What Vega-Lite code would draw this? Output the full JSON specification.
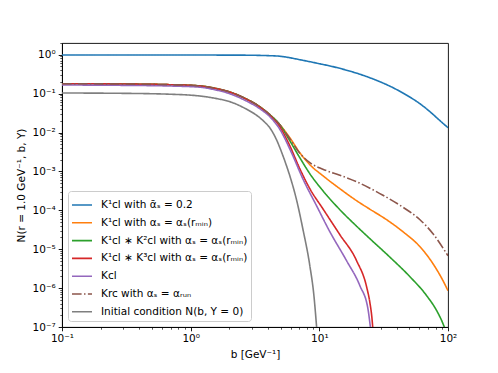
{
  "$schema": "https://vega.github.io/schema/vega-lite/v6.json",
  "autosize": "none",
  "width": 386,
  "height": 284,
  "padding": {"left": 62, "top": 43, "right": 50, "bottom": 46},
  "background": "white",
  "config": {
    "font": "DejaVu Sans",
    "view": {"stroke": "black", "strokeWidth": 0.9},
    "axis": {
      "domainColor": "black", "domainWidth": 0.9, "tickColor": "black",
      "labelColor": "black", "titleColor": "black", "grid": false,
      "labelFont": "DejaVu Sans", "labelFontSize": 10.5, "titleFont": "DejaVu Sans",
      "titleFontSize": 10.5, "titleFontWeight": "normal", "labelPadding": 3,
      "labelOverlap": false, "labelFlush": false
    },
    "legend": {
      "orient": "bottom-left", "offset": 6, "fillColor": "white", "strokeColor": "#cccccc",
      "cornerRadius": 3, "padding": 3, "labelFont": "DejaVu Sans", "labelFontSize": 10.5,
      "labelColor": "black", "symbolType": "stroke", "symbolStrokeWidth": 1.6,
      "symbolSize": 400, "rowPadding": 0.8, "labelLimit": 400, "labelOffset": 8
    }
  },
  "datasets": {
    "curves": [
      {"s": "blue", "b": 0.1, "N": 0.98}, {"s": "blue", "b": 0.5, "N": 0.98}, {"s": "blue", "b": 1.0, "N": 0.98},
      {"s": "blue", "b": 2.4, "N": 0.975}, {"s": "blue", "b": 3.443, "N": 0.96}, {"s": "blue", "b": 4.12, "N": 0.943},
      {"s": "blue", "b": 4.927, "N": 0.915}, {"s": "blue", "b": 5.893, "N": 0.837}, {"s": "blue", "b": 7.05, "N": 0.744},
      {"s": "blue", "b": 8.436, "N": 0.661}, {"s": "blue", "b": 10, "N": 0.587}, {"s": "blue", "b": 12.07, "N": 0.515},
      {"s": "blue", "b": 15.8, "N": 0.411}, {"s": "blue", "b": 20.65, "N": 0.315}, {"s": "blue", "b": 27.0, "N": 0.228},
      {"s": "blue", "b": 35.4, "N": 0.155}, {"s": "blue", "b": 46.3, "N": 0.0965}, {"s": "blue", "b": 60.5, "N": 0.055},
      {"s": "blue", "b": 72.4, "N": 0.0343}, {"s": "blue", "b": 86.7, "N": 0.0201}, {"s": "blue", "b": 100, "N": 0.0133},

      {"s": "orange", "b": 0.1, "N": 0.1797}, {"s": "orange", "b": 0.28, "N": 0.1765}, {"s": "orange", "b": 0.687, "N": 0.1694},
      {"s": "orange", "b": 1.175, "N": 0.1577}, {"s": "orange", "b": 1.537, "N": 0.1376}, {"s": "orange", "b": 2.012, "N": 0.1099},
      {"s": "orange", "b": 2.632, "N": 0.0762}, {"s": "orange", "b": 3.443, "N": 0.046}, {"s": "orange", "b": 4.12, "N": 0.02868},
      {"s": "orange", "b": 4.927, "N": 0.01587}, {"s": "orange", "b": 5.893, "N": 0.00735}, {"s": "orange", "b": 7.05, "N": 0.003025},
      {"s": "orange", "b": 8.436, "N": 0.001487}, {"s": "orange", "b": 10.65, "N": 0.000775}, {"s": "orange", "b": 14.44, "N": 0.000359},
      {"s": "orange", "b": 19.48, "N": 0.0001765}, {"s": "orange", "b": 24.72, "N": 0.0001067}, {"s": "orange", "b": 33.34, "N": 0.0000573},
      {"s": "orange", "b": 44.65, "N": 0.00002818}, {"s": "orange", "b": 60.56, "N": 0.00001159}, {"s": "orange", "b": 76.43, "N": 0.00000424},
      {"s": "orange", "b": 91.45, "N": 0.00000155}, {"s": "orange", "b": 100, "N": 0.000000857},

      {"s": "green", "b": 0.1, "N": 0.1797}, {"s": "green", "b": 0.28, "N": 0.1765}, {"s": "green", "b": 0.687, "N": 0.1694},
      {"s": "green", "b": 1.175, "N": 0.1577}, {"s": "green", "b": 1.537, "N": 0.1376}, {"s": "green", "b": 2.012, "N": 0.1099},
      {"s": "green", "b": 2.632, "N": 0.0762}, {"s": "green", "b": 3.443, "N": 0.046}, {"s": "green", "b": 4.12, "N": 0.02868},
      {"s": "green", "b": 4.927, "N": 0.01587}, {"s": "green", "b": 5.893, "N": 0.006154}, {"s": "green", "b": 7.05, "N": 0.00225},
      {"s": "green", "b": 8.436, "N": 0.000873}, {"s": "green", "b": 10.65, "N": 0.000319}, {"s": "green", "b": 14.44, "N": 0.0001036},
      {"s": "green", "b": 19.48, "N": 0.000039}, {"s": "green", "b": 24.72, "N": 0.00001862}, {"s": "green", "b": 35.38, "N": 0.00000623},
      {"s": "green", "b": 50.6, "N": 0.000001963}, {"s": "green", "b": 68.27, "N": 0.000000638}, {"s": "green", "b": 81.7, "N": 0.0000002624},
      {"s": "green", "b": 91.45, "N": 0.0000001215}, {"s": "green", "b": 96.5, "N": 0.0000000757},

      {"s": "red", "b": 0.1, "N": 0.1797}, {"s": "red", "b": 0.28, "N": 0.1765}, {"s": "red", "b": 0.687, "N": 0.1694},
      {"s": "red", "b": 1.175, "N": 0.1572}, {"s": "red", "b": 1.537, "N": 0.137}, {"s": "red", "b": 2.012, "N": 0.1092},
      {"s": "red", "b": 2.632, "N": 0.0755}, {"s": "red", "b": 3.443, "N": 0.0452}, {"s": "red", "b": 4.12, "N": 0.02784},
      {"s": "red", "b": 4.927, "N": 0.01409}, {"s": "red", "b": 5.893, "N": 0.004577}, {"s": "red", "b": 7.05, "N": 0.001173},
      {"s": "red", "b": 8.436, "N": 0.000359}, {"s": "red", "b": 10.65, "N": 0.0001099}, {"s": "red", "b": 14.44, "N": 0.0000236},
      {"s": "red", "b": 19.48, "N": 0.00000506}, {"s": "red", "b": 23.29, "N": 0.000001086}, {"s": "red", "b": 24.72, "N": 0.000000421},
      {"s": "red", "b": 25.62, "N": 0.0000001734}, {"s": "red", "b": 26.09, "N": 0.0000000852},

      {"s": "purple", "b": 0.1, "N": 0.1664}, {"s": "purple", "b": 0.28, "N": 0.1634}, {"s": "purple", "b": 0.687, "N": 0.1568},
      {"s": "purple", "b": 1.175, "N": 0.1461}, {"s": "purple", "b": 1.537, "N": 0.126}, {"s": "purple", "b": 2.012, "N": 0.0994},
      {"s": "purple", "b": 2.632, "N": 0.0677}, {"s": "purple", "b": 3.443, "N": 0.0409}, {"s": "purple", "b": 4.12, "N": 0.02548},
      {"s": "purple", "b": 4.927, "N": 0.01216}, {"s": "purple", "b": 6.077, "N": 0.003025}, {"s": "purple", "b": 7.44, "N": 0.000649},
      {"s": "purple", "b": 9.51, "N": 0.0001313}, {"s": "purple", "b": 12.07, "N": 0.00002818}, {"s": "purple", "b": 16.28, "N": 0.00000506},
      {"s": "purple", "b": 20.66, "N": 0.000001152}, {"s": "purple", "b": 23.85, "N": 0.0000002954}, {"s": "purple", "b": 25.07, "N": 0.0000000852},

      {"s": "brown", "b": 0.1, "N": 0.1797}, {"s": "brown", "b": 0.28, "N": 0.1765}, {"s": "brown", "b": 0.687, "N": 0.1694},
      {"s": "brown", "b": 1.175, "N": 0.1577}, {"s": "brown", "b": 1.537, "N": 0.1376}, {"s": "brown", "b": 2.012, "N": 0.1099},
      {"s": "brown", "b": 2.632, "N": 0.0762}, {"s": "brown", "b": 3.443, "N": 0.046}, {"s": "brown", "b": 4.12, "N": 0.02868},
      {"s": "brown", "b": 4.927, "N": 0.01587}, {"s": "brown", "b": 5.893, "N": 0.00693}, {"s": "brown", "b": 7.05, "N": 0.002936},
      {"s": "brown", "b": 8.436, "N": 0.001674}, {"s": "brown", "b": 10.65, "N": 0.001139}, {"s": "brown", "b": 14.44, "N": 0.000799},
      {"s": "brown", "b": 19.48, "N": 0.000543}, {"s": "brown", "b": 24.72, "N": 0.00037}, {"s": "brown", "b": 31.21, "N": 0.0002444},
      {"s": "brown", "b": 44.65, "N": 0.0001201}, {"s": "brown", "b": 60.56, "N": 0.0000573}, {"s": "brown", "b": 76.43, "N": 0.00002503},
      {"s": "brown", "b": 97.7, "N": 0.00000766}, {"s": "brown", "b": 100, "N": 0.00000681},

      {"s": "gray", "b": 0.1, "N": 0.1036}, {"s": "gray", "b": 0.28, "N": 0.1018}, {"s": "gray", "b": 0.687, "N": 0.0965},
      {"s": "gray", "b": 1.175, "N": 0.0868}, {"s": "gray", "b": 1.537, "N": 0.0762}, {"s": "gray", "b": 2.122, "N": 0.0583},
      {"s": "gray", "b": 2.632, "N": 0.0421}, {"s": "gray", "b": 3.443, "N": 0.024}, {"s": "gray", "b": 3.766, "N": 0.0184},
      {"s": "gray", "b": 4.12, "N": 0.01328}, {"s": "gray", "b": 4.645, "N": 0.00653}, {"s": "gray", "b": 5.108, "N": 0.003025},
      {"s": "gray", "b": 5.556, "N": 0.001401}, {"s": "gray", "b": 5.893, "N": 0.000775}, {"s": "gray", "b": 6.646, "N": 0.0001873},
      {"s": "gray", "b": 7.44, "N": 0.00003365}, {"s": "gray", "b": 8.436, "N": 0.00000377}, {"s": "gray", "b": 9.06, "N": 0.000000677},
      {"s": "gray", "b": 9.56, "N": 0.0000000852}
    ],
    "names": [
      {"s": "blue", "label": "K¹cl with ᾱₛ = 0.2"},
      {"s": "orange", "label": "K¹cl with αₛ = αₛ(rₘᵢₙ)"},
      {"s": "green", "label": "K¹cl ∗ K²cl with αₛ = αₛ(rₘᵢₙ)"},
      {"s": "red", "label": "K¹cl ∗ K³cl with αₛ = αₛ(rₘᵢₙ)"},
      {"s": "purple", "label": "Kcl"},
      {"s": "brown", "label": "Krc with αₛ = αᵣᵤₙ"},
      {"s": "gray", "label": "Initial condition N(b, Y = 0)"}
    ]
  },
  "data": {"name": "curves"},
  "transform": [
    {"lookup": "s", "from": {"data": {"name": "names"}, "key": "s", "fields": ["label"]}}
  ],
  "mark": {"type": "line", "strokeWidth": 1.6, "clip": true, "interpolate": "monotone"},
  "encoding": {
    "x": {
      "field": "b", "type": "quantitative",
      "scale": {"type": "log", "domain": [0.1, 100], "nice": false},
      "axis": {
        "title": "b [GeV⁻¹]", "titlePadding": 5,
        "values": [0.1,0.2,0.3,0.4,0.5,0.6,0.7,0.8,0.9,1,2,3,4,5,6,7,8,9,10,20,30,40,50,60,70,80,90,100],
        "labelExpr": "abs(log(datum.value)/LN10 - round(log(datum.value)/LN10)) < 0.001 ? '10' + ['⁻¹','⁰','¹','²'][round(log(datum.value)/LN10) + 1] : ''",
        "tickSize": {"condition": {"test": "abs(log(datum.value)/LN10 - round(log(datum.value)/LN10)) < 0.001", "value": 3.8}, "value": 2.2},
        "tickWidth": {"condition": {"test": "abs(log(datum.value)/LN10 - round(log(datum.value)/LN10)) < 0.001", "value": 0.9}, "value": 0.65}
      }
    },
    "y": {
      "field": "N", "type": "quantitative",
      "scale": {"type": "log", "domain": [1e-7, 2], "nice": false},
      "axis": {
        "title": "N(r = 1.0 GeV⁻¹, b, Y)", "titlePadding": 6,
        "values": [1e-7,2e-7,3e-7,4e-7,5e-7,6e-7,7e-7,8e-7,9e-7,1e-6,2e-6,3e-6,4e-6,5e-6,6e-6,7e-6,8e-6,9e-6,1e-5,2e-5,3e-5,4e-5,5e-5,6e-5,7e-5,8e-5,9e-5,1e-4,2e-4,3e-4,4e-4,5e-4,6e-4,7e-4,8e-4,9e-4,1e-3,2e-3,3e-3,4e-3,5e-3,6e-3,7e-3,8e-3,9e-3,0.01,0.02,0.03,0.04,0.05,0.06,0.07,0.08,0.09,0.1,0.2,0.3,0.4,0.5,0.6,0.7,0.8,0.9,1,2],
        "labelExpr": "abs(log(datum.value)/LN10 - round(log(datum.value)/LN10)) < 0.001 ? '10' + ['⁰','⁻¹','⁻²','⁻³','⁻⁴','⁻⁵','⁻⁶','⁻⁷'][-round(log(datum.value)/LN10)] : ''",
        "tickSize": {"condition": {"test": "abs(log(datum.value)/LN10 - round(log(datum.value)/LN10)) < 0.001", "value": 3.8}, "value": 2.2},
        "tickWidth": {"condition": {"test": "abs(log(datum.value)/LN10 - round(log(datum.value)/LN10)) < 0.001", "value": 0.9}, "value": 0.65}
      }
    },
    "color": {
      "field": "label", "type": "nominal", "title": null,
      "scale": {
        "domain": ["K¹cl with ᾱₛ = 0.2", "K¹cl with αₛ = αₛ(rₘᵢₙ)", "K¹cl ∗ K²cl with αₛ = αₛ(rₘᵢₙ)", "K¹cl ∗ K³cl with αₛ = αₛ(rₘᵢₙ)", "Kcl", "Krc with αₛ = αᵣᵤₙ", "Initial condition N(b, Y = 0)"],
        "range": ["#1f77b4", "#ff7f0e", "#2ca02c", "#d62728", "#9467bd", "#8c564b", "#7f7f7f"]
      }
    },
    "strokeDash": {
      "field": "label", "type": "nominal", "title": null,
      "scale": {
        "domain": ["K¹cl with ᾱₛ = 0.2", "K¹cl with αₛ = αₛ(rₘᵢₙ)", "K¹cl ∗ K²cl with αₛ = αₛ(rₘᵢₙ)", "K¹cl ∗ K³cl with αₛ = αₛ(rₘᵢₙ)", "Kcl", "Krc with αₛ = αᵣᵤₙ", "Initial condition N(b, Y = 0)"],
        "range": [[1, 0], [1, 0], [1, 0], [1, 0], [1, 0], [9.6, 2.4, 1.5, 2.4], [1, 0]]
      }
    }
  }
}
